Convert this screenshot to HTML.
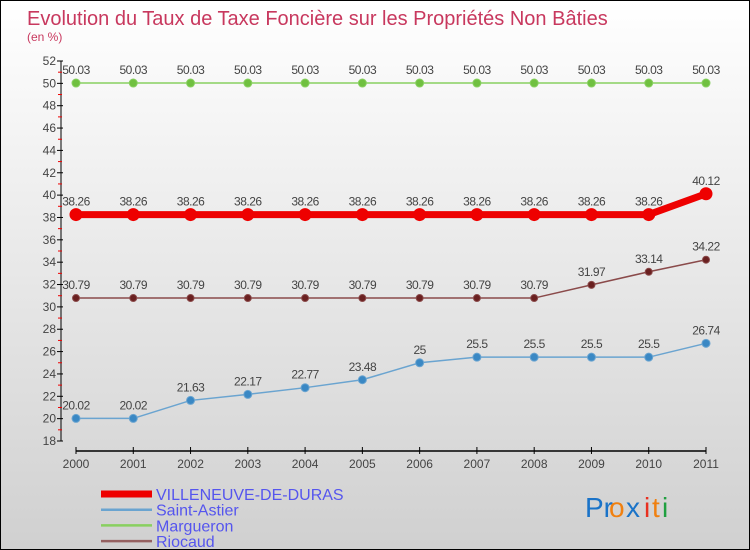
<!DOCTYPE html>
<html><head><meta charset="utf-8"><style>
body{margin:0}
#c{position:relative;width:748px;height:548px;border:1px solid #000;background:linear-gradient(#fff,#d0d0d0);font-family:"Liberation Sans",sans-serif;overflow:hidden}
</style></head><body>
<div id="c">
<svg width="748" height="548">
<text x="26" y="24" font-size="20" fill="#c8385e">Evolution du Taux de Taxe Foncière sur les Propriétés Non Bâties</text>
<text x="26" y="40" font-size="12" fill="#c8385e">(en %)</text>
<g id="axes"></g><g id="series"></g><g id="legend"></g>
<g font-size="28" font-family="'Liberation Sans',sans-serif">
<text x="584" y="516" fill="#1a73c8">Pr</text><text x="608" y="516" fill="#f08010">o</text><text x="625" y="516" fill="#1a73c8">x</text><text x="643" y="516" fill="#e83020">i</text><text x="651" y="516" fill="#f08010">t</text><text x="661" y="516" fill="#20a040">i</text>
</g>
</svg></div>
<script>
const years=["2000","2001","2002","2003","2004","2005","2006","2007","2008","2009","2010","2011"];
const yTicks=[18,20,22,24,26,28,30,32,34,36,38,40,42,44,46,48,50,52];
const margueron=[50.03,50.03,50.03,50.03,50.03,50.03,50.03,50.03,50.03,50.03,50.03,50.03];
const villeneuve=[38.26,38.26,38.26,38.26,38.26,38.26,38.26,38.26,38.26,38.26,38.26,40.12];
const riocaud=[30.79,30.79,30.79,30.79,30.79,30.79,30.79,30.79,30.79,31.97,33.14,34.22];
const saintAstier=[20.02,20.02,21.63,22.17,22.77,23.48,25,25.5,25.5,25.5,25.5,26.74];
const seriesNames=["VILLENEUVE-DE-DURAS","Saint-Astier","Margueron","Riocaud"];
const NS="http://www.w3.org/2000/svg";
const X=i=>75+i*(630/11), Y=v=>440-(v-18)*(380/34);
function mk(t,a,p){const e=document.createElementNS(NS,t);for(const k in a)e.setAttribute(k,a[k]);p.appendChild(e);return e;}
const ax=document.getElementById('axes');
let l=mk('line',{x1:60,y1:60,x2:60,y2:440,stroke:'#000'},ax);


l=mk('line',{x1:75,y1:450,x2:705,y2:450,stroke:'#000','stroke-width':1.5},ax);


yTicks.forEach((v,i)=>{
 mk('line',{x1:56,x2:62,y1:Y(v),y2:Y(v),stroke:'#000'},ax);
 if(i<yTicks.length-1)mk('line',{x1:57,x2:61,y1:Y(v+1),y2:Y(v+1),stroke:'#e00'},ax);
 const t=mk('text',{x:55,y:Y(v)+4,'text-anchor':'end','font-size':12,fill:'#444'},ax);t.textContent=v;
 
 
});
years.forEach((y,i)=>{
 mk('line',{x1:X(i),x2:X(i),y1:446,y2:453,stroke:'#000'},ax);
 const t=mk('text',{x:X(i),y:467,'text-anchor':'middle','font-size':12,fill:'#444'},ax);t.textContent=y;
 
 
});
const sg=document.getElementById('series');
function draw(data,color,w,r,name,fill){
 const g=mk('g',{},sg);
 
 
 mk('polyline',{points:data.map((v,i)=>X(i)+','+Y(v)).join(' '),fill:'none',stroke:color,'stroke-width':w},g);
 data.forEach((v,i)=>{
  const c=mk('circle',{cx:X(i),cy:Y(v),r:r,fill:fill,stroke:color},g);
  
  
  const t=mk('text',{x:X(i),y:Y(v)-9,'text-anchor':'middle','font-size':12,fill:'#444','letter-spacing':'-0.5'},g);
  t.textContent=String(v);
  
  
 });
}
draw(margueron,'#88d060',1.5,4,'margueron-series','#70c040');
draw(saintAstier,'#6aa4d0',1.5,4,'saint-astier-series','#3a88c4');
draw(riocaud,'#8a4a4a',1.5,3.5,'riocaud-series','#6a2020');
draw(villeneuve,'#ee0000',7,6,'villeneuve-series','#ee0000');
const lg=document.getElementById('legend');
const lc=['#ee0000','#6aa4d0','#88d060','#946060'],lw=[7,2.5,2.5,2.5];
seriesNames.forEach((n,i)=>{
 const y=493+i*15.7;
 const g=mk('g',{},lg);
 
 
 mk('line',{x1:100,x2:151,y1:y,y2:y,stroke:lc[i],'stroke-width':lw[i]},g);
 const t=mk('text',{x:155,y:y+6,'font-size':16,fill:'#5555ee'},g);t.textContent=n;
});
</script>
</body></html>
